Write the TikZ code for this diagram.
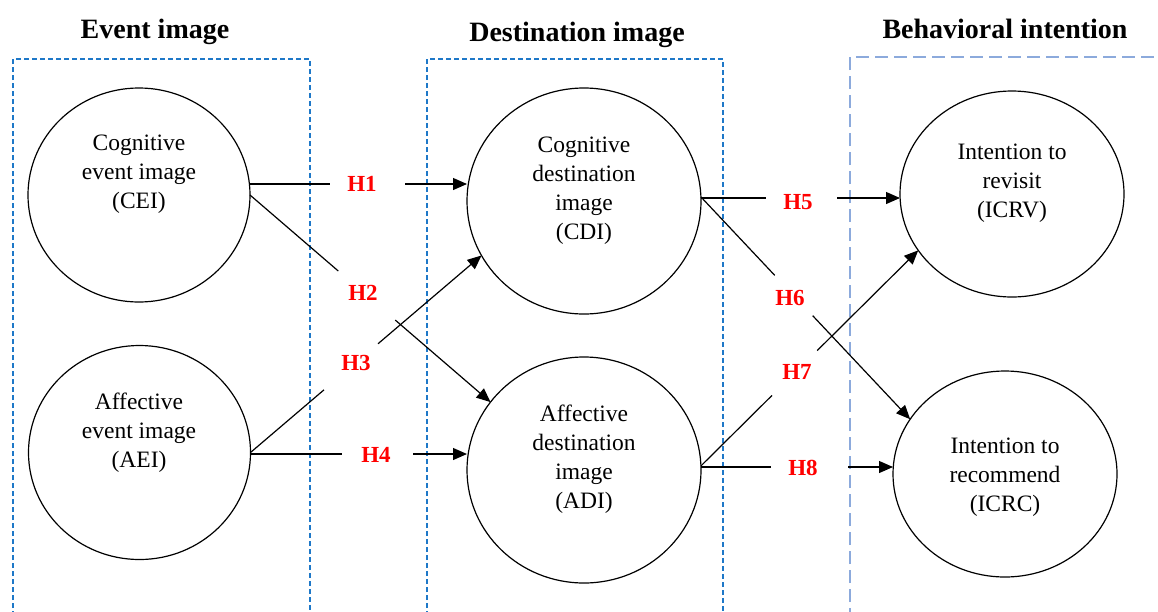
\documentclass[tikz,border=0pt]{standalone}
\usepackage{fontspec}
\setmainfont{Liberation Serif}
\usetikzlibrary{shapes.geometric,arrows.meta,calc}
\definecolor{boxblue}{RGB}{30,120,200}
\definecolor{boxlight}{RGB}{140,170,220}
\begin{document}
\begin{tikzpicture}[x=1pt,y=-1pt,
  circ/.style={draw,ellipse,line width=1.2pt,inner sep=0pt,outer sep=0pt},
  ctext/.style={align=center,font=\fontsize{23.5}{29}\selectfont,inner sep=0pt},
  title/.style={font=\fontsize{28}{32}\selectfont\bfseries,anchor=base,inner sep=0pt},
  hyp/.style={font=\fontsize{23}{26}\selectfont\bfseries,text=red,inner sep=0pt},
  conn/.style={line width=1.2pt},
  arr/.style={conn,-{Triangle[length=14pt,width=12pt]}},
  boxA/.style={draw=boxblue,line width=1.2pt,dash pattern=on 5pt off 3pt},
  boxB/.style={draw=boxlight,line width=1.2pt,dash pattern=on 13pt off 6pt}]
\useasboundingbox (0,0) rectangle (1158,611);
\fill[white] (0,0) rectangle (1158,611);
\clip (0,0) rectangle (1158,611);

% titles
\node[title] (T1) at (155,38) {Event image};
\node[title] (T2) at (577,41) {Destination image};
\node[title] (T3) at (1005,38) {Behavioral intention};

% group frames
\draw[boxA] (13,640) -- (13,59) -- (310,59) -- (310,640);
\draw[boxA] (427,640) -- (427,59) -- (723,59) -- (723,640);
\draw[boxB] (850,640) -- (850,57) -- (1170,57);

% constructs
\node[circ,minimum width=222pt,minimum height=214pt] (CEI) at (139,195) {};
\node[circ,minimum width=222pt,minimum height=214pt] (AEI) at (139.5,452.5) {};
\node[circ,minimum width=234pt,minimum height=226pt] (CDI) at (584,201) {};
\node[circ,minimum width=234pt,minimum height=226pt] (ADI) at (584,470) {};
\node[circ,minimum width=224pt,minimum height=206pt] (ICRV) at (1012,194) {};
\node[circ,minimum width=224pt,minimum height=206pt] (ICRC) at (1005,474) {};

\node[ctext] (CEIt) at (139,174) {Cognitive\\event image\\(CEI)};
\node[ctext] (AEIt) at (139,433) {Affective\\event image\\(AEI)};
\node[ctext] (CDIt) at (584,191) {Cognitive\\destination\\image\\(CDI)};
\node[ctext] (ADIt) at (584,459) {Affective\\destination\\image\\(ADI)};
\node[ctext] (ICRVt) at (1012,183) {Intention to\\revisit\\(ICRV)};
\node[ctext] (ICRCt) at (1005,477) {Intention to\\recommend\\(ICRC)};

% hypothesis labels
\node[hyp] (H1) at (362,184) {H1};
\node[hyp] (H2) at (363,293) {H2};
\node[hyp] (H3) at (356,363) {H3};
\node[hyp] (H4) at (376,455) {H4};
\node[hyp] (H5) at (798,202) {H5};
\node[hyp] (H6) at (790,298) {H6};
\node[hyp] (H7) at (797,372) {H7};
\node[hyp] (H8) at (803,468) {H8};

% gap ends
\coordinate (h1a) at (330,184);
\coordinate (h1b) at (405,184);
\coordinate (h2a) at ($(CEI.east)!0.367!(ADI.144)$);
\coordinate (h2b) at ($(CEI.east)!0.604!(ADI.144)$);
\coordinate (h3a) at ($(AEI.east)!0.318!(CDI.208)$);
\coordinate (h3b) at ($(AEI.east)!0.552!(CDI.208)$);
\coordinate (h4a) at (342,454);
\coordinate (h4b) at (413,454);
\coordinate (h5a) at (766,198);
\coordinate (h5b) at (837,198);
\coordinate (h6a) at ($(CDI.2)!0.353!(ICRC.150)$);
\coordinate (h6b) at ($(CDI.2)!0.534!(ICRC.150)$);
\coordinate (h7a) at ($(ADI.2)!0.327!(ICRV.211)$);
\coordinate (h7b) at ($(ADI.2)!0.535!(ICRV.211)$);
\coordinate (h8a) at (771,467);
\coordinate (h8b) at (848,467);

% connectors
\draw[conn] (CEI.east |- h1a) -- (h1a);
\draw[arr] (h1b) -- (h1b -| CDI.west);
\draw[conn] (CEI.east) -- (h2a);
\draw[arr] (h2b) -- (ADI.144);
\draw[conn] (AEI.east) -- (h3a);
\draw[arr] (h3b) -- (CDI.208);
\draw[conn] (AEI.east |- h4a) -- (h4a);
\draw[arr] (h4b) -- (h4b -| ADI.west);
\draw[conn] (CDI.east |- h5a) -- (h5a);
\draw[arr] (h5b) -- (h5b -| ICRV.west);
\draw[conn] (CDI.2) -- (h6a);
\draw[arr] (h6b) -- (ICRC.150);
\draw[conn] (ADI.2) -- (h7a);
\draw[arr] (h7b) -- (ICRV.211);
\draw[conn] (ADI.east |- h8a) -- (h8a);
\draw[arr] (h8b) -- (h8b -| ICRC.west);
\end{tikzpicture}
\end{document}
